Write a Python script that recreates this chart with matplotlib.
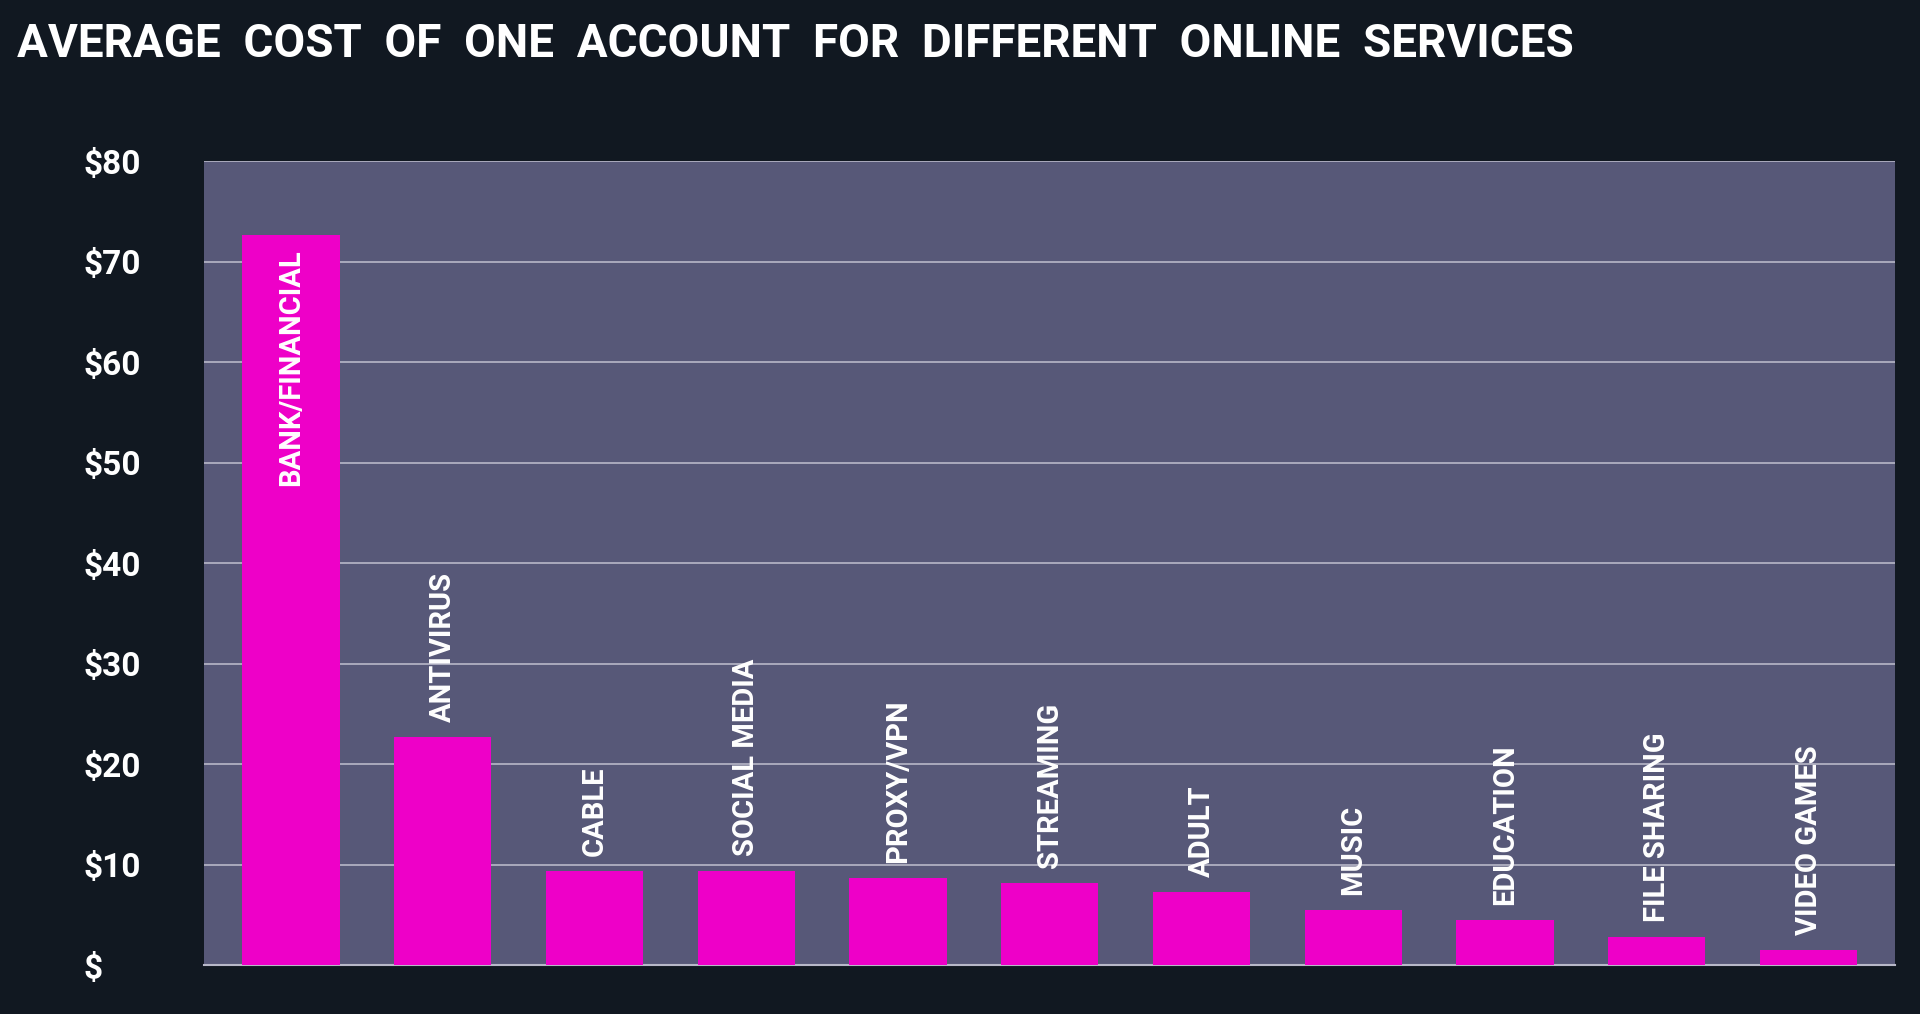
import matplotlib.pyplot as plt
import numpy as np

categories = ["BANK/FINANCIAL", "ANTIVIRUS", "CABLE", "SOCIAL MEDIA", "PROXY/VPN", "STREAMING",
              "ADULT", "MUSIC", "EDUCATION", "FILE SHARING", "VIDEO GAMES"]
costs = [72.7, 22.7, 9.4, 9.4, 8.7, 8.2, 7.3, 5.5, 4.5, 2.8, 1.5]
yticks = [0, 10, 20, 30, 40, 50, 60, 70, 80]
ytick_labels = ["$", "$10", "$20", "$30", "$40", "$50", "$60", "$70", "$80"]

bg = "#111821"
face = "#575878"
pink = "#EE00C8"

plt.rcParams["font.family"] = ["Roboto", "DejaVu Sans"]

fig = plt.figure(figsize=(19.2, 10.14), dpi=100, facecolor=bg)
ax = fig.add_axes([0.1065, 0.048, 0.8805, 0.793])
ax.set_facecolor(face)

x = np.arange(len(categories))
ax.bar(x, costs, width=0.64, color=pink, zorder=3)

for i, (c, v) in enumerate(zip(categories, costs)):
    if i == 0:
        ax.text(i, v - 1.5, c, rotation=90, ha="center", va="top", color="white",
                fontsize=21, fontweight="bold")
    else:
        ax.text(i, v + 1.5, c, rotation=90, ha="center", va="bottom", color="white",
                fontsize=21, fontweight="bold")

ax.set_xlim(-0.57, 10.57)
ax.set_ylim(0, 80)
ax.set_yticks(yticks)
ax.set_yticklabels(ytick_labels, color="white", fontsize=24, fontweight="bold")
ax.set_xticks([])
ax.tick_params(axis="y", length=0)
for lbl in ax.get_yticklabels():
    lbl.set_horizontalalignment("left")
ax.yaxis.set_tick_params(pad=87)
ax.grid(axis="y", color="#b8b8c8", linewidth=1.2, zorder=1)
for s in ["top", "right", "left"]:
    ax.spines[s].set_visible(False)
ax.spines["bottom"].set_color("#b8b8c8")
ax.spines["bottom"].set_linewidth(1.5)

fig.text(0.009, 0.957, "AVERAGE  COST  OF  ONE  ACCOUNT  FOR  DIFFERENT  ONLINE  SERVICES",
         color="white", fontsize=33, fontweight="bold", ha="left", va="center")

fig.savefig("out.png", facecolor=bg)
